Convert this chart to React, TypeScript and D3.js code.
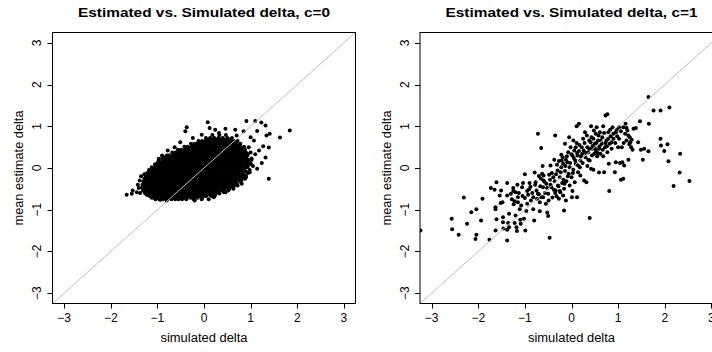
import React from "react";
import * as d3 from "d3";

const tickValues = [-3, -2, -1, 0, 1, 2, 3];
const titles = ["Estimated vs. Simulated delta, c=0", "Estimated vs. Simulated delta, c=1"];
const xLabel = "simulated delta";
const yLabel = "mean estimate delta";

// Left panel (c=0): dense core, row by row (estimate value, simulated values)
const leftCoreRows: [number, number[]][] = [
  [-0.75, [-1.04, -0.96, -0.88, -0.79, -0.7, -0.62, -0.55, -0.47, -0.38, -0.22, -0.05, 0.1]],
  [-0.68, [-1.16, -1.08, -1.01, -0.93, -0.86, -0.78, -0.71, -0.63, -0.56, -0.48, -0.41, -0.33, -0.26, -0.18, -0.08, 0.04, 0.17]],
  [-0.61, [-1.26, -1.19, -1.11, -1.04, -0.96, -0.89, -0.81, -0.74, -0.66, -0.59, -0.51, -0.44, -0.36, -0.29, -0.21, -0.14, -0.06, 0.01, 0.09, 0.2, 0.33]],
  [-0.54, [-1.31, -1.23, -1.16, -1.08, -1.01, -0.93, -0.86, -0.78, -0.71, -0.63, -0.56, -0.48, -0.41, -0.33, -0.26, -0.18, -0.11, -0.03, 0.04, 0.12, 0.19, 0.27, 0.38, 0.52]],
  [-0.47, [-1.33, -1.26, -1.18, -1.11, -1.03, -0.96, -0.88, -0.81, -0.73, -0.66, -0.58, -0.51, -0.43, -0.36, -0.28, -0.21, -0.13, -0.06, 0.02, 0.09, 0.17, 0.24, 0.32, 0.4, 0.5, 0.63]],
  [-0.4, [-1.32, -1.25, -1.17, -1.1, -1.02, -0.95, -0.87, -0.8, -0.72, -0.65, -0.57, -0.5, -0.42, -0.35, -0.27, -0.2, -0.12, -0.05, 0.03, 0.1, 0.18, 0.25, 0.33, 0.4, 0.48, 0.56, 0.68]],
  [-0.33, [-1.3, -1.23, -1.15, -1.08, -1.0, -0.93, -0.85, -0.78, -0.7, -0.63, -0.55, -0.48, -0.4, -0.33, -0.25, -0.18, -0.1, -0.03, 0.05, 0.12, 0.2, 0.27, 0.35, 0.42, 0.5, 0.58, 0.66, 0.78]],
  [-0.26, [-1.28, -1.21, -1.13, -1.06, -0.98, -0.91, -0.83, -0.76, -0.68, -0.61, -0.53, -0.46, -0.38, -0.31, -0.23, -0.16, -0.08, -0.01, 0.07, 0.14, 0.22, 0.29, 0.37, 0.44, 0.52, 0.59, 0.67, 0.76, 0.88]],
  [-0.19, [-1.25, -1.18, -1.1, -1.03, -0.95, -0.88, -0.8, -0.73, -0.65, -0.58, -0.5, -0.43, -0.35, -0.28, -0.2, -0.13, -0.05, 0.02, 0.1, 0.17, 0.25, 0.32, 0.4, 0.47, 0.55, 0.62, 0.7, 0.79, 0.9]],
  [-0.12, [-1.22, -1.14, -1.07, -0.99, -0.92, -0.84, -0.77, -0.69, -0.62, -0.54, -0.47, -0.39, -0.32, -0.24, -0.17, -0.09, -0.02, 0.06, 0.13, 0.21, 0.28, 0.36, 0.43, 0.51, 0.58, 0.66, 0.73, 0.81, 0.94]],
  [-0.05, [-1.18, -1.11, -1.03, -0.96, -0.88, -0.81, -0.73, -0.66, -0.58, -0.51, -0.43, -0.36, -0.28, -0.21, -0.13, -0.06, 0.02, 0.09, 0.17, 0.24, 0.32, 0.39, 0.47, 0.54, 0.62, 0.69, 0.77, 0.86, 0.98]],
  [0.02, [-1.12, -1.05, -0.97, -0.9, -0.82, -0.75, -0.67, -0.6, -0.52, -0.45, -0.37, -0.3, -0.22, -0.15, -0.07, 0.0, 0.08, 0.15, 0.23, 0.3, 0.38, 0.45, 0.53, 0.6, 0.68, 0.75, 0.83, 0.93]],
  [0.09, [-1.05, -0.98, -0.9, -0.83, -0.75, -0.68, -0.6, -0.53, -0.45, -0.38, -0.3, -0.23, -0.15, -0.08, 0.0, 0.07, 0.15, 0.22, 0.3, 0.37, 0.45, 0.52, 0.6, 0.67, 0.75, 0.82, 0.9, 1.01]],
  [0.16, [-0.98, -0.9, -0.83, -0.75, -0.68, -0.6, -0.53, -0.45, -0.38, -0.3, -0.23, -0.15, -0.08, 0.0, 0.07, 0.15, 0.22, 0.3, 0.37, 0.45, 0.52, 0.6, 0.67, 0.75, 0.82, 0.9, 0.99]],
  [0.23, [-0.9, -0.82, -0.75, -0.67, -0.6, -0.52, -0.45, -0.37, -0.3, -0.22, -0.15, -0.07, 0.0, 0.08, 0.15, 0.23, 0.3, 0.38, 0.45, 0.53, 0.6, 0.68, 0.75, 0.83, 0.91, 1.02]],
  [0.3, [-0.8, -0.73, -0.65, -0.58, -0.5, -0.43, -0.35, -0.28, -0.2, -0.13, -0.05, 0.02, 0.1, 0.17, 0.25, 0.32, 0.4, 0.47, 0.55, 0.62, 0.7, 0.77, 0.85, 0.93]],
  [0.37, [-0.68, -0.61, -0.53, -0.46, -0.38, -0.31, -0.23, -0.16, -0.08, -0.01, 0.07, 0.14, 0.22, 0.29, 0.37, 0.44, 0.52, 0.59, 0.67, 0.74, 0.82, 0.9, 1.0]],
  [0.44, [-0.56, -0.49, -0.41, -0.34, -0.26, -0.19, -0.11, -0.04, 0.04, 0.11, 0.19, 0.26, 0.34, 0.41, 0.49, 0.56, 0.64, 0.71, 0.79, 0.88]],
  [0.51, [-0.42, -0.35, -0.27, -0.2, -0.12, -0.05, 0.03, 0.1, 0.18, 0.25, 0.33, 0.4, 0.48, 0.55, 0.63, 0.7, 0.78, 0.86]],
  [0.58, [-0.28, -0.21, -0.13, -0.06, 0.02, 0.09, 0.17, 0.24, 0.32, 0.39, 0.47, 0.54, 0.62, 0.69, 0.78]],
  [0.65, [-0.12, -0.04, 0.03, 0.11, 0.18, 0.26, 0.33, 0.41, 0.48, 0.56, 0.64, 0.72]],
  [0.72, [0.04, 0.13, 0.22, 0.31, 0.4, 0.5, 0.6]],
  [0.79, [0.18, 0.33, 0.47]],
];

// Left panel (c=0): in-between rows of the dense core
const leftCoreHalfRows: [number, number[]][] = [
  [-0.715, [-1.12, -1.04, -0.97, -0.89, -0.82, -0.74, -0.67, -0.59, -0.52, -0.44, -0.37, -0.29, -0.22, -0.14, -0.04]],
  [-0.645, [-1.22, -1.15, -1.07, -1.0, -0.92, -0.85, -0.77, -0.7, -0.62, -0.55, -0.47, -0.4, -0.32, -0.25, -0.17, -0.1, -0.02, 0.05, 0.13, 0.24]],
  [-0.575, [-1.27, -1.19, -1.12, -1.04, -0.97, -0.89, -0.82, -0.74, -0.67, -0.59, -0.52, -0.44, -0.37, -0.29, -0.22, -0.14, -0.07, 0.01, 0.08, 0.16, 0.23, 0.31, 0.42]],
  [-0.505, [-1.29, -1.22, -1.14, -1.07, -0.99, -0.92, -0.84, -0.77, -0.69, -0.62, -0.54, -0.47, -0.39, -0.32, -0.24, -0.17, -0.09, -0.02, 0.06, 0.13, 0.21, 0.28, 0.36, 0.44, 0.54]],
  [-0.435, [-1.28, -1.21, -1.13, -1.06, -0.98, -0.91, -0.83, -0.76, -0.68, -0.61, -0.53, -0.46, -0.38, -0.31, -0.23, -0.16, -0.08, -0.01, 0.07, 0.14, 0.22, 0.29, 0.37, 0.44, 0.52, 0.6]],
  [-0.365, [-1.26, -1.19, -1.11, -1.04, -0.96, -0.89, -0.81, -0.74, -0.66, -0.59, -0.51, -0.44, -0.36, -0.29, -0.21, -0.14, -0.06, 0.01, 0.09, 0.16, 0.24, 0.31, 0.39, 0.46, 0.54, 0.62, 0.7]],
  [-0.295, [-1.24, -1.17, -1.09, -1.02, -0.94, -0.87, -0.79, -0.72, -0.64, -0.57, -0.49, -0.42, -0.34, -0.27, -0.19, -0.12, -0.04, 0.03, 0.11, 0.18, 0.26, 0.33, 0.41, 0.48, 0.56, 0.63, 0.71, 0.8]],
  [-0.225, [-1.21, -1.14, -1.06, -0.99, -0.91, -0.84, -0.76, -0.69, -0.61, -0.54, -0.46, -0.39, -0.31, -0.24, -0.16, -0.09, -0.01, 0.06, 0.14, 0.21, 0.29, 0.36, 0.44, 0.51, 0.59, 0.66, 0.74, 0.83]],
  [-0.155, [-1.18, -1.1, -1.03, -0.95, -0.88, -0.8, -0.73, -0.65, -0.58, -0.5, -0.43, -0.35, -0.28, -0.2, -0.13, -0.05, 0.02, 0.1, 0.17, 0.25, 0.32, 0.4, 0.47, 0.55, 0.62, 0.7, 0.77, 0.85]],
  [-0.085, [-1.14, -1.07, -0.99, -0.92, -0.84, -0.77, -0.69, -0.62, -0.54, -0.47, -0.39, -0.32, -0.24, -0.17, -0.09, -0.02, 0.06, 0.13, 0.21, 0.28, 0.36, 0.43, 0.51, 0.58, 0.66, 0.73, 0.81, 0.9]],
  [-0.015, [-1.08, -1.01, -0.93, -0.86, -0.78, -0.71, -0.63, -0.56, -0.48, -0.41, -0.33, -0.26, -0.18, -0.11, -0.03, 0.04, 0.12, 0.19, 0.27, 0.34, 0.42, 0.49, 0.57, 0.64, 0.72, 0.79, 0.87]],
  [0.055, [-1.01, -0.94, -0.86, -0.79, -0.71, -0.64, -0.56, -0.49, -0.41, -0.34, -0.26, -0.19, -0.11, -0.04, 0.04, 0.11, 0.19, 0.26, 0.34, 0.41, 0.49, 0.56, 0.64, 0.71, 0.79, 0.86, 0.94]],
  [0.125, [-0.94, -0.86, -0.79, -0.71, -0.64, -0.56, -0.49, -0.41, -0.34, -0.26, -0.19, -0.11, -0.04, 0.04, 0.11, 0.19, 0.26, 0.34, 0.41, 0.49, 0.56, 0.64, 0.71, 0.79, 0.86, 0.94]],
  [0.195, [-0.86, -0.78, -0.71, -0.63, -0.56, -0.48, -0.41, -0.33, -0.26, -0.18, -0.11, -0.03, 0.04, 0.12, 0.19, 0.27, 0.34, 0.42, 0.49, 0.57, 0.64, 0.72, 0.79, 0.87, 0.95]],
  [0.265, [-0.76, -0.69, -0.61, -0.54, -0.46, -0.39, -0.31, -0.24, -0.16, -0.09, -0.01, 0.06, 0.14, 0.21, 0.29, 0.36, 0.44, 0.51, 0.59, 0.66, 0.74, 0.81, 0.89]],
  [0.335, [-0.64, -0.57, -0.49, -0.42, -0.34, -0.27, -0.19, -0.12, -0.04, 0.03, 0.11, 0.18, 0.26, 0.33, 0.41, 0.48, 0.56, 0.63, 0.71, 0.78, 0.86, 0.94]],
  [0.405, [-0.52, -0.45, -0.37, -0.3, -0.22, -0.15, -0.07, 0.0, 0.08, 0.15, 0.23, 0.3, 0.38, 0.45, 0.53, 0.6, 0.68, 0.75, 0.83]],
  [0.475, [-0.38, -0.31, -0.23, -0.16, -0.08, -0.01, 0.07, 0.14, 0.22, 0.29, 0.37, 0.44, 0.52, 0.59, 0.67, 0.74, 0.82]],
  [0.545, [-0.24, -0.17, -0.09, -0.02, 0.06, 0.13, 0.21, 0.28, 0.36, 0.43, 0.51, 0.58, 0.66, 0.74]],
  [0.615, [-0.08, 0.0, 0.07, 0.15, 0.22, 0.3, 0.37, 0.45, 0.52, 0.6, 0.68]],
  [0.685, [0.08, 0.17, 0.26, 0.35, 0.44, 0.54]],
];

// Left panel (c=0): scattered points around the core (simulated, estimate)
const leftFringe: [number, number][] = [
  [-1.66, -0.64], [-1.55, -0.62], [-1.53, -0.54], [-1.44, -0.58], [-1.37, -0.6], [-1.4, -0.48],
  [-1.42, -0.4], [-1.38, -0.3], [-1.35, -0.2], [-1.28, -0.15], [-1.12, 0.0], [-1.08, -0.14],
  [-0.97, 0.22], [-0.87, 0.26], [-0.76, 0.3], [-0.63, 0.5], [-0.51, 0.62], [-0.4, 0.88],
  [-0.37, 0.98], [-0.15, 0.58], [0.08, 1.1], [0.12, 0.96], [0.24, 0.92], [0.46, 0.94],
  [0.67, 0.92], [0.91, 1.13], [1.1, 1.13], [1.23, 1.09], [1.32, 1.02], [1.14, 0.89],
  [1.41, 0.82], [1.34, 0.78], [1.63, 0.73], [1.84, 0.9], [1.27, 0.52], [1.39, 0.49],
  [1.32, 0.25], [1.14, -0.02], [1.24, 0.12], [1.39, -0.26], [1.1, 0.33], [1.07, 0.66],
  [1.0, 0.74], [0.81, -0.38], [0.63, -0.5], [0.46, -0.58], [0.24, -0.64], [0.21, -0.7],
  [-0.01, -0.62], [-0.15, -0.7], [-0.37, -0.68], [-0.51, -0.7], [-0.66, -0.71], [-0.8, -0.78],
  [-0.94, -0.76], [-1.06, -0.72], [-1.15, -0.62], [-1.23, -0.5], [-1.26, -0.3],
  [0.96, 0.5], [1.02, 0.2], [0.98, -0.1], [0.9, -0.22], [0.72, -0.42], [0.55, -0.48],
  [-0.24, 0.72], [0.7, 0.78], [0.85, 0.88], [0.32, 0.84], [-0.05, 0.8], [-0.78, 0.42],
  [1.18, 0.42], [1.05, 0.05], [0.3, -0.58], [-0.2, -0.78], [-0.9, 0.3], [-1.0, 0.1],
];

// Right panel (c=1): (simulated, estimate)
const rightPoints: [number, number][] = [
  [-3.24, -1.5], [-2.57, -1.22], [-2.56, -1.47], [-2.42, -1.6], [-2.31, -0.71], [-2.24, -1.34],
  [-2.15, -1.06], [-2.04, -0.99], [-2.06, -1.7], [-2.04, -1.6], [-1.94, -1.26], [-1.91, -0.74],
  [-1.76, -1.72], [-1.73, -0.48], [-1.65, -0.52], [-1.61, -0.34], [-1.63, -0.94], [-1.63, -0.99],
  [-1.61, -1.23], [-1.63, -1.5], [-1.54, -0.66], [-1.52, -0.84], [-1.48, -0.82], [-1.51, -0.54],
  [-1.47, -1.18], [-1.47, -1.3], [-1.46, -1.45], [-1.38, -0.66], [-1.38, -0.36], [-1.36, -1.32],
  [-1.38, -1.48], [-1.38, -1.74], [-1.34, -1.1], [-1.34, -1.42], [-1.28, -0.75], [-1.25, -0.55],
  [-1.24, -0.87], [-1.22, -1.32], [-1.2, -0.58], [-1.2, -1.14], [-1.18, -1.42], [-1.17, -1.51],
  [-1.16, -0.4], [-1.15, -0.82], [-1.13, -0.6], [-1.11, -0.99], [-1.1, -1.24], [-1.09, -1.34],
  [-1.06, -0.46], [-1.05, -0.67], [-1.04, -0.36], [-1.02, -1.22], [-1.0, -0.15], [-0.99, -1.5],
  [-0.97, -1.03], [-0.95, -0.86], [-0.93, -0.64], [-0.91, -0.51], [-0.9, -0.36], [-0.87, -0.78],
  [-0.84, -0.6], [-0.82, -0.99], [-0.8, -1.26], [-0.79, -0.11], [-0.77, -0.34], [-0.75, -0.54],
  [-0.74, -0.74], [-0.72, 0.82], [-0.7, -0.19], [-0.7, -0.63], [-0.68, -0.82], [-0.68, -1.04],
  [-0.67, -0.44], [-0.65, 0.48], [-0.63, -0.14], [-0.62, 0.05], [-0.61, -0.46], [-0.61, -0.7],
  [-0.6, -0.3], [-0.57, -0.6], [-0.55, -0.86], [-0.54, -0.38], [-0.52, -1.07], [-0.5, -1.15],
  [-0.49, -0.78], [-0.48, -0.16], [-0.47, -1.67], [-0.45, 0.06], [-0.43, -0.46], [-0.41, -0.71],
  [-0.39, -0.22], [-0.37, 0.2], [-0.36, -0.32], [-0.35, 0.78], [-0.34, -0.54], [-0.32, -0.68],
  [-0.3, -0.06], [-0.29, -0.42], [-0.27, 0.17], [-0.27, -0.74], [-0.25, -0.22], [-0.24, -0.58],
  [-0.22, 0.32], [-0.22, 0.02], [-0.2, -0.36], [-0.19, 0.26], [-0.18, 0.1], [-0.18, -0.66],
  [-0.16, -0.5], [-0.16, -1.02], [-0.14, 0.58], [-0.14, -0.07], [-0.12, 0.2], [-0.12, -0.78],
  [-0.11, -0.32], [-0.09, 0.14], [-0.07, 0.38], [-0.06, -0.14], [-0.05, 0.74], [-0.04, 0.02],
  [-0.04, -0.42], [-0.02, 0.5], [0.0, 0.33], [0.0, -0.22], [0.01, -0.7], [0.02, -0.55],
  [0.04, 0.66], [0.04, -0.04], [0.05, 0.24], [0.07, -0.34], [0.09, 0.5], [0.09, 0.1],
  [0.11, 1.0], [0.11, 0.6], [0.12, -0.7], [0.13, 0.3], [0.14, -0.1], [0.16, 1.06],
  [0.16, 0.41], [0.18, 0.02], [0.19, 0.18], [0.19, -0.18], [0.22, 0.5], [0.23, 0.34],
  [0.25, 0.7], [0.27, -0.3], [0.29, 0.86], [0.3, 0.26], [0.32, -0.34], [0.34, 0.5],
  [0.34, 0.05], [0.36, 0.38], [0.38, 0.66], [0.39, -1.2], [0.39, 0.18], [0.42, 1.0],
  [0.42, -0.02], [0.43, 0.74], [0.44, 0.46], [0.45, 0.53], [0.47, -0.04], [0.48, 0.9],
  [0.49, 0.34], [0.5, 0.58], [0.52, 0.82], [0.52, 0.42], [0.54, 0.98], [0.55, 0.28],
  [0.57, 0.66], [0.59, -0.11], [0.59, 0.46], [0.61, 0.86], [0.62, 0.34], [0.65, 0.58],
  [0.66, 0.74], [0.68, 0.28], [0.68, 1.0], [0.7, -0.1], [0.72, 0.5], [0.73, 1.26],
  [0.75, 0.66], [0.77, 1.29], [0.77, 0.38], [0.79, 0.86], [0.8, 0.1], [0.81, -0.55],
  [0.82, 0.58], [0.84, 0.76], [0.86, 0.46], [0.88, 0.98], [0.9, 0.7], [0.93, -0.1],
  [0.95, 0.14], [0.95, 0.86], [0.98, 0.76], [1.0, 0.5], [1.02, 0.98], [1.04, 0.12],
  [1.06, -0.28], [1.08, 0.5], [1.09, 0.14], [1.11, 0.98], [1.11, -0.26], [1.13, 0.06],
  [1.15, 0.82], [1.16, 1.06], [1.18, 0.66], [1.2, 0.9], [1.22, 0.2], [1.24, 0.57],
  [1.25, 0.74], [1.28, 0.5], [1.29, 0.68], [1.31, 0.44], [1.38, 0.96], [1.43, 0.62],
  [1.47, 1.12], [1.49, 0.44], [1.53, 0.2], [1.56, 0.46], [1.65, 1.7], [1.65, 0.4],
  [1.66, 1.06], [1.76, 1.38], [1.91, 1.38], [1.91, 0.7], [1.92, 0.54], [1.99, 0.41],
  [2.06, 0.57], [2.08, 0.16], [2.1, 1.45], [2.19, -0.43], [2.32, -0.11], [2.33, 0.34],
  [2.53, -0.31],
  [-0.95, -0.55], [-0.88, -0.45], [-0.82, -0.7], [-0.78, -0.4], [-0.72, -0.62], [-0.66, -0.25],
  [-0.58, -0.33], [-0.52, -0.48], [-0.46, -0.28], [-0.42, -0.12], [-0.38, -0.52], [-0.33, -0.15],
  [-0.31, 0.08], [-0.28, -0.44], [-0.23, -0.1], [-0.21, 0.18], [-0.17, -0.28], [-0.13, 0.05],
  [-0.1, 0.28], [-0.08, -0.2], [-0.03, 0.12], [0.02, 0.3], [0.03, -0.12], [0.06, 0.42],
  [0.08, 0.18], [0.12, 0.36], [0.14, 0.06], [0.17, 0.55], [0.2, 0.28], [0.24, 0.12],
  [0.26, 0.42], [0.28, 0.6], [0.31, 0.36], [0.33, 0.78], [0.36, 0.2], [0.38, 0.46],
  [0.41, 0.62], [0.44, 0.3], [0.47, 0.7], [0.5, 0.48], [0.53, 0.6], [0.56, 0.36],
  [0.58, 0.78], [0.6, 0.52], [0.63, 0.66], [0.67, 0.44], [0.7, 0.84], [0.73, 0.6],
  [0.76, 0.52], [0.79, 0.7], [0.83, 0.92], [0.86, 0.62], [0.9, 0.82], [0.94, 0.6],
  [0.97, 0.92], [1.02, 0.7], [1.06, 0.88], [1.12, 0.6], [1.18, 0.96], [1.22, 0.78],
  [1.26, 0.62], [1.33, 0.94], [-1.3, -0.62], [-1.22, -0.8], [-1.15, -0.7], [-1.08, -0.9],
  [-1.0, -0.72], [-1.25, -0.48], [-0.65, -0.7], [-0.6, -0.18], [-0.5, -0.62], [-0.45, -0.4],
  [-0.35, -0.6], [-0.25, -0.55], [-0.15, -0.38],
];

const rowsToPoints = (rows: [number, number[]][]) =>
  rows.flatMap(([est, sims]) => sims.map((s) => [s, est] as [number, number]));

const leftPoints: [number, number][] = [
  ...rowsToPoints(leftCoreRows),
  ...rowsToPoints(leftCoreHalfRows),
  ...leftFringe,
];

const FONT = "'Liberation Sans', Arial, Helvetica, sans-serif";
const MINUS = "\u2212";
const fmt = (v: number) => (v < 0 ? MINUS + Math.abs(v) : String(v));

function Panel({ offset, points, title, id }: { offset: number; points: [number, number][]; title: string; id: string }) {
  const x = d3.scaleLinear().domain([-3.25, 3.25]).range([52.5 + offset, 355.5 + offset]);
  const y = d3.scaleLinear().domain([-3.25, 3.25]).range([303.5, 32.5]);
  const [x0, x1] = x.range();
  const [y0, y1] = y.range();
  const cx = (x0 + x1) / 2;
  const cy = (y0 + y1) / 2;
  return (
    <g>
      <defs>
        <clipPath id={id}>
          <rect x={x0} y={y1} width={x1 - x0} height={y0 - y1} />
        </clipPath>
      </defs>
      <g clipPath={`url(#${id})`}>
        {points.map(([sx, ey], i) => (
          <circle key={i} cx={x(sx)} cy={y(ey)} r={2} fill="#000" />
        ))}
        <line x1={x(-3.25)} y1={y(-3.25)} x2={x(3.25)} y2={y(3.25)} stroke="#bebebe" strokeWidth={1} />
      </g>
      <rect x={x0} y={y1} width={x1 - x0} height={y0 - y1} fill="none" stroke="#000" strokeWidth={1} />
      {tickValues.map((t) => (
        <g key={"x" + t}>
          <line x1={Math.round(x(t)) + 0.5} x2={Math.round(x(t)) + 0.5} y1={y0} y2={y0 + 5} stroke="#000" />
          <text x={x(t)} y={322} textAnchor="middle" fontSize={12} fontFamily={FONT}>
            {fmt(t)}
          </text>
        </g>
      ))}
      {tickValues.map((t) => (
        <g key={"y" + t}>
          <line y1={Math.round(y(t)) + 0.5} y2={Math.round(y(t)) + 0.5} x1={x0 - 5} x2={x0} stroke="#000" />
          <text transform={`translate(${x0 - 11.5},${y(t)}) rotate(-90)`} textAnchor="middle" fontSize={12} fontFamily={FONT}>
            {fmt(t)}
          </text>
        </g>
      ))}
      <text x={cx} y={17} textAnchor="middle" fontSize={13} fontWeight="bold" fontFamily={FONT} textLength={252} lengthAdjust="spacingAndGlyphs">
        {title}
      </text>
      <text x={cx} y={342} textAnchor="middle" fontSize={12.5} fontFamily={FONT} textLength={87} lengthAdjust="spacingAndGlyphs">
        {xLabel}
      </text>
      <text transform={`translate(${x0 - 29.5},${cy}) rotate(-90)`} textAnchor="middle" fontSize={12.5} fontFamily={FONT} textLength={115} lengthAdjust="spacingAndGlyphs">
        {yLabel}
      </text>
    </g>
  );
}

export default function App() {
  return (
    <svg
      width={712}
      height={352}
      style={{ position: "absolute", left: 0, top: 0, background: "#fff" }}
      xmlns="http://www.w3.org/2000/svg"
    >
      <rect x={0} y={0} width={712} height={352} fill="#fff" />
      <Panel offset={0} points={leftPoints} title={titles[0]} id="clipL" />
      <Panel offset={367.5} points={rightPoints} title={titles[1]} id="clipR" />
    </svg>
  );
}
